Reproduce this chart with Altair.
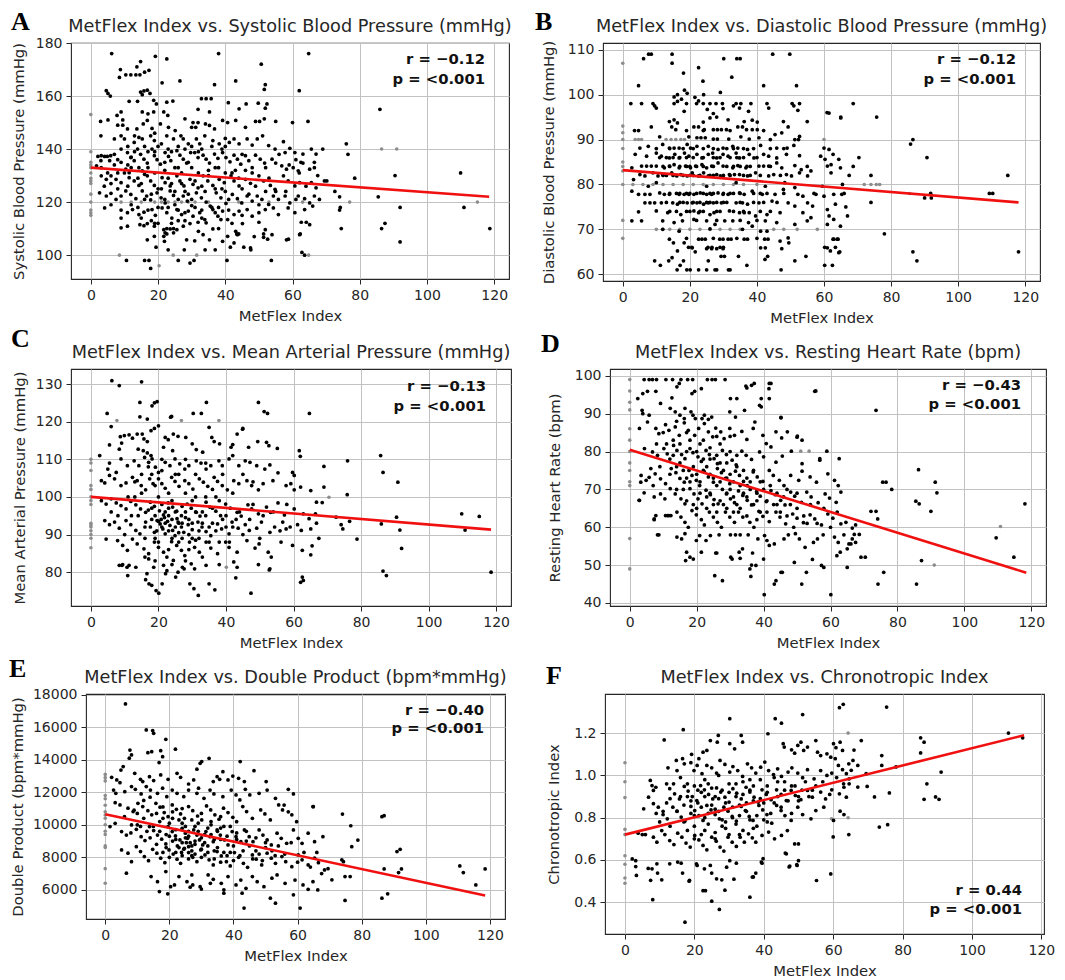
import altair as alt
import pandas as pd

X_TICKS = [0, 20, 40, 60, 80, 100, 120]

# ---------------- Panel A : Systolic BP ----------------
A_pts = [
(6.2,176),(38.0,176),(64.8,176),(50.7,172),(22.6,174),(14.8,173),(13.7,171),(19.2,175),(8.8,170),(8.5,167),
(10.4,168),(11.9,168),(13.4,168),(14.6,168),(16.0,169),(17.3,169.7),(21.2,165),(26.5,165.7),(36.8,164.3),(43.1,165.7),
(51.9,164.3),(51.6,162.5),(62.0,162),(4.6,162),(5.1,161),(5.8,160),(14.8,161.5),(15.8,161.9),(16.8,162.2),(17.6,161),
(15.3,160.5),(11.4,158),(13.9,158),(18.7,158.4),(19.5,157),(22.6,157.7),(24.4,158.1),(32.9,159),(34.3,159),(35.8,159),
(31.9,155),(35.3,154),(40.9,157.5),(44.1,155.2),(46.2,157),(49.8,157.3),(52.4,157),(51.9,155.4),(9.0,154),(7.8,152.7),
(15.3,154),(17.0,153.3),(18.7,154),(21.7,154),(22.9,152.7),(9.5,151),(2.9,150.4),(5.1,151),(8.0,149),(9.5,149),
(10.9,147.6),(13.7,147.6),(15.6,149.5),(16.8,150.8),(18.2,147.8),(20.7,149.5),(23.1,148.2),(25.1,147),(28.0,151.4),(30.0,148.2),
(31.2,148.2),(30.4,150),(31.9,150),(34.1,149.5),(35.3,148.9),(36.8,147.6),(39.2,150.8),(40.7,150),(43.1,150.8),(46.0,148.2),
(49.0,150.4),(50.2,150.4),(51.6,151.4),(55.0,150.4),(60.0,150),(64.6,150.4),
(3.0,145),(7.0,143.8),(9.0,145),(10.0,143.8),(12.9,142.5),(14.3,144.4),(15.3,143.8),(17.8,145),(18.9,143.2),(21.0,142),
(22.6,145),(24.6,143.8),(26.8,145),(27.5,143.8),(29.0,142),(31.4,143.8),(32.4,142),(33.9,145),(36.3,143.2),(38.2,142),
(40.0,144),(41.2,142.5),(42.6,143.8),(44.1,142),(46.5,143.8),(48.0,141.5),(49.5,143.8),(51.1,145),(52.9,141.3),(54.8,140),
(57.3,142.8),(59.2,140.3),(60.7,138.7),(57.8,138.7),(63.1,138.1),(65.6,140),(67.0,138.1),
(2.1,137.2),(3.1,137.5),(4.1,137.2),(4.9,137.2),(5.9,137.5),(3.0,135.6),(5.6,135.6),(1.7,133.7),(3.1,133),(7.0,138),
(8.0,136),(9.0,135),(10.9,138.7),(11.9,136.8),(12.9,135.6),(10.4,132.4),(11.4,131.1),(13.9,140),(14.8,138),(15.8,136.2),
(16.8,134.7),(14.3,133),(15.3,131.8),(16.0,130.5),(18.2,140),(18.9,137.5),(19.7,136),(20.7,134.3),(22.1,138.7),(23.1,137.2),
(23.8,135.6),(25.6,139.4),(26.5,137.7),(27.5,136.2),(28.5,134.7),(29.7,138.7),(30.9,138.7),(31.9,136.8),(33.4,137.7),(34.3,136.2),
(35.3,134.7),(36.8,138.1),(37.8,136.5),(39.2,138.7),(40.2,136.8),(41.4,135.2),(42.6,137.7),(43.6,136.2),(44.6,134.3),(46.0,137.5),
(47.0,135.6),(49.0,137.7),(50.4,136.2),(51.7,134.7),(53.9,136.2),(55.0,134.7),(56.8,133.7),(58.2,132.4),(60.2,133),(61.7,131.8),
(63.1,134.7),(65.1,132.4),
(3.1,129.9),(4.6,128.6),(6.0,129.9),(7.5,128.6),(9.0,127.3),(11.4,129.2),(12.9,128),(14.3,126.3),(16.8,129.9),(17.8,128),
(18.9,126.3),(21.2,129.2),(22.1,127.3),(23.6,126.1),(25.6,129.9),(26.5,128),(27.7,126.1),(29.5,128.6),(30.4,126.7),(31.9,125.4),
(33.4,129.9),(34.8,128),(36.3,126.3),(38.2,128.6),(39.7,127.3),(41.7,129.9),(42.6,128),(44.1,126.1),(46.0,128.6),(47.5,127.1),
(50.0,129.9),(51.4,128),(53.4,126.3),(54.8,124.8),(57.3,129.9),(58.7,128),(60.7,126.1),(62.1,127.3),(65.6,127.3),(67.0,125.4),
(2.6,123.5),(4.6,122.3),(6.0,123.3),(7.5,121),(9.0,122.3),(10.4,124.2),(11.9,122.9),(13.4,121.3),(15.3,124.2),(16.6,122.3),
(17.8,120.8),(19.7,123.5),(20.9,121.6),(22.1,119.7),(23.6,124.2),(24.6,122.5),(26.0,121),(27.5,122.3),(28.7,120.4),(30.0,118.7),
(31.4,123.5),(32.9,121.6),(34.3,120),(35.5,118.5),(37.3,123.5),(38.7,121.6),(40.2,119.5),(42.1,122.9),(43.6,121.3),(44.9,119.7),
(46.5,122.3),(48.0,120.4),(49.5,122.3),(50.9,121),(52.9,119.1),(54.3,122.3),(55.8,121),(57.8,122.3),(59.2,119.7),(61.7,122.3),
(63.6,121.3),(65.1,119.7),(66.5,122.3),
(4.1,117.8),(9.0,117),(10.9,116),(12.4,117.2),(14.3,115.3),(15.8,116.2),(18.2,117.2),(19.2,115),(21.2,117.8),(22.6,116),
(24.1,114),(25.6,117.2),(27.0,115.3),(29.0,116.6),(30.4,114.7),(32.4,116),(33.9,113.4),(36.3,117.2),(37.8,114.7),(39.2,116.6),
(40.7,113.4),(42.6,115.3),(44.1,116.6),(46.5,117.2),(48.0,114.7),(50.0,116),(51.9,117.2),(54.3,117.8),(55.8,115.3),(58.7,117.8),
(60.7,116),(63.6,117.2),(66.0,118.5),(9.0,114),(10.9,110.9),(14.6,111.5),(15.8,111.1),(16.8,111.9),(18.9,110.9),(21.7,109.6),
(22.6,110),(23.6,109.9),(24.6,110),(25.6,109.6),(27.5,110.9),(29.5,111.9),(31.9,112.4),(34.3,112.2),(36.3,109.9),(38.7,113.4),
(43.1,109),(43.6,107.7),(45.1,111.9),(50.0,112.4),(51.9,109.6),(62.6,112.4),(65.1,111.5),(64.1,112.4),(9.0,110.3),
(21.7,107.1),(21.9,105.2),(22.1,108.4),(22.6,108),(24.6,108.4),(18.9,107.1),(16.8,105.8),(28.5,105.8),(30.9,105.4),(33.4,107.7),
(35.3,105.8),(39.2,105.2),(40.7,107.1),(42.6,104.6),(47.5,102.7),(51.4,106.7),(53.9,107.7),(58.2,105.8),(62.1,107.7),
(52.6,106),(58.8,106),(62.3,108),(48.6,107),(51.4,108),(43.4,108),(44.0,108),
(10.6,98),(16.0,98),(17.3,98),(17.8,95),(19.4,103),(23.0,102),(26.0,98),(27.8,102),(29.5,97),(30.7,98),
(34.0,102),(37.0,102),(40.5,98),(41.5,103),(45.5,103),(47.6,102),(53.7,98),(62.8,101),(63.6,100),
(76.0,142),(76.5,138),(69.0,140),(78.5,129),(90.5,130),(110.0,131),(69.5,128),(70.2,128),(72.6,124),
(74.0,122),(74.2,118),(74.0,117),(85.5,122),(74.5,110),(86.5,110),(87.5,112),(92.0,118),(92.0,105),(111.0,118),
(118.7,110),(86.0,155),(66.5,133),(67.5,130),(68.0,121),(66.5,135),(62.5,135),(61.0,136),
]
A_core = [
(11,141),(13,139),(16,141),(19,139),(20,141),(23,140),(26,141),(28,140),(30,141),(33,140),(36,141),(39,140),
(12,133),(17,133),(19,131),(22,132),(25,133),(27,131),(30,133),(32,131),(35,132),(38,133),(40,131),(43,132),(46,132),(48,131),
(11,126),(15,127),(20,125),(24,127),(28,124),(33,126),(37,125),(40,124),(45,125),(49,126),(52,124),
(12,119),(14,118),(17,117),(20,118),(23,118),(26,117),(28,116),(31,118),(33,117),(38,118),(41,117),(45,115),
(18,113),(20,112),(24,112),(26,113),(28,113),(32,109),(38,110),(42,112),(7,134),(5,131),(8,125),(6,119),(4,126),
(9,140),(10,131),(12,137),(13,145),(14,129),(16,121),(17,139),(18,123),(19,146),(21,125),(22,135),(23,129),(24,139),
(25,119),(26,133),(27,127),(29,135),(30,121),(31,128),(32,139),(34,124),(35,130),(36,118),(37,133),(39,125),(40,141),
(41,121),(42,131),(44,129),(45,138),(47,123),(48,133),(50,119),(52,133),(53,129),(55,124),(56,138),(58,124),(59,134),
(61,121),(62,131),(64,126),(15,114),(19,112),(22,121),(25,124),(29,123),(33,114),(37,116),(11,134),(8,131),(6,127),
]
A_gray = [(0,153),(0,139),(0,135),(0,134),(0,133),(0,131),(0,129),(0,128),(0,127),(0,123),(0,120),(0,117),(0,116),(0,115),
(8.5,100),(20.3,96),(24.5,100),(31.5,100),(64.8,100),(77.0,120),(115.0,120),(86.5,140),(91.0,140),
(9,120),(12,120),(15,120),(19,120),(21,120),(23,120),(25,120),(27,120),(29,120),(31,120),(35,120),(44,120),(53,120),(63,120)]
A_line_x = [0, 118.5]
A_line_y = [133, 122]

# ---------------- Panel B : Diastolic BP ----------------
B_pts = [
(6.2,108),(7.7,109),(8.5,109),(14.7,109),(14.7,107),(18.1,104.8),(22.6,106),(23.9,103),(30.1,108),(32.5,103.9),
(34.0,108),(35.0,108),(44.7,109),(49.8,109),(42.0,102),(51.8,102),(4.7,102),(2.4,98),(5.6,98),(9.0,98),(9.5,97.5),
(15.3,98),(16.3,98.5),(19.0,98),(22.0,98),(24.0,98),(26.0,98),(27.8,98),(29.7,98),(33.0,97.5),(33.8,98),(35.2,98),(38.2,98),(43.0,98),
(50.5,98),(51.0,97.5),(52.7,98),
(15.3,99.5),(16.3,100),(18.4,101),(19.2,100.3),(17.5,99),(21.5,99.4),(24.1,100),(29.1,100.5),(22.6,98.6),
(10.0,97),(18.3,96.3),(25.2,96.7),(27.0,95.8),(29.9,96.9),(34.8,97),(37.5,96.3),(43.5,97),(52.2,96.5),
(13.9,94),(15.3,94.4),(16.3,93.7),(24.0,93.9),(26.0,94.8),(28.0,95),(31.4,94.4),(36.2,94),(38.6,94.3),(40.1,93.9),
(47.9,94),(49.3,92.8),(55.0,94),(61.5,95.9),(65.0,94.8),
(3.5,92),(4.7,92),(8.5,92.8),(14.6,92.8),(15.8,92.2),(21.2,92.8),(22.6,92.8),(24.3,92.2),(27.0,92.2),(28.2,92.2),
(29.4,92.2),(30.9,92.2),(34.3,92.8),(35.7,92.8),(36.9,92.2),(38.6,92.2),(40.1,92.2),(45.4,91.1),(47.4,91.5),(52.7,90.7),
(11.0,90.6),(19.7,90.6),(22.1,90.4),(23.3,90.4),(24.6,90.4),(27.0,90.1),(28.2,90.1),(31.6,90.1),(35.2,90.6),(37.7,90.1),
(40.6,90.4),(44.0,90),(51.3,90),(52.4,90),
(5.1,88.1),(7.6,88.5),(11.9,88.9),(13.9,88.1),(15.3,88.1),(16.8,88.1),(19.2,88.9),(20.2,88.1),(22.1,88.5),(25.5,88.5),
(28.4,87.8),(29.9,88.1),(32.8,88.5),(34.3,88.1),(37.2,87.8),(41.1,88.7),(45.9,88.1),(49.0,88.1),(51.0,88.7),(60.0,88.1),(61.5,87.8),
(3.7,86.7),(7.1,86.3),(10.0,87),(11.5,86.3),(13.9,85.9),(15.5,86.7),(16.8,85.9),(18.4,87),(19.7,86.3),(22.1,86.7),
(23.6,85.9),(25.5,86.7),(26.8,87),(28.0,85.9),(29.9,86.7),(31.4,86.3),(33.8,87),(34.8,85.9),(37.7,86.7),(39.1,85.9),
(42.0,86.7),(43.5,86.3),(45.9,85.9),(48.8,86.7),(52.7,86.4),(59.0,86.3),(60.3,85.6),(62.7,86.7),(64.4,85.6),
(2.7,83.7),(5.6,84.1),(7.1,84.1),(8.5,84.1),(10.0,84.1),(12.4,83.7),(13.9,84.1),(15.3,84.4),(16.8,83.7),(18.7,84.1),
(20.2,83.7),(21.7,84.1),(23.6,84.4),(25.0,83.7),(26.5,84.1),(28.4,84.8),(29.9,84.1),(32.8,83.7),(34.3,84.2),(36.7,83.7),
(40.6,84.1),(42.0,84.1),(43.5,84.1),(45.9,84.8),(47.4,83.7),(51.3,84.2),(53.2,83.3),(56.1,83),(61.0,84.1),(62.1,84.4),(64.9,83.7),
(3.2,81.1),(5.1,82.2),(6.6,81.9),(9.0,82.6),(10.5,81.9),(11.9,82.2),(14.6,82.6),(16.1,81.9),(17.3,82.2),(19.2,81.9),
(20.7,82.6),(22.6,81.9),(24.1,82.6),(25.5,81.9),(28.0,82.2),(29.1,81.9),(31.8,82.2),(33.3,82.2),(34.8,82.2),(37.2,81.9),
(39.6,82.6),(43.5,81.9),(45.0,82.2),(48.8,82.2),(50.3,81.9),(52.7,82.6),(55.1,81.9),(62.1,82.6),
(7.6,79.6),(10.0,80.4),(25.0,79.6),(33.8,80.4),(42.5,79.6),(48.3,80.4),(51.3,79.3),(59.5,79.6),
(2.7,78.5),(4.7,77.8),(6.6,77.8),(8.1,77.8),(11.0,78.1),(12.4,77.8),(13.9,77.8),(16.8,77.8),(18.3,77.8),(19.7,77.8),
(21.2,77.8),(23.1,78.1),(25.0,77.8),(26.5,77.8),(28.4,78.1),(29.9,77.8),(31.4,77.8),(34.8,78.1),(36.2,77.8),(38.6,78.5),
(41.6,77.8),(45.4,77.8),(47.9,78.9),(52.2,77.8),(53.7,77.4),(57.6,77.8),(60.0,77.4),(62.9,77.8),(65.3,77.8),
(6.6,75.9),(8.1,75.9),(9.5,75.9),(11.5,75.9),(14.9,75.9),(16.3,75.6),(19.2,75.9),(20.7,75.9),(22.1,75.9),(24.1,75.6),
(25.5,75.9),(27.0,75.9),(29.4,75.9),(33.8,75.9),(35.7,75.9),(37.2,75.6),(40.6,75.9),(44.5,76.3),(49.3,75.9),(51.3,75.2),
(55.1,75.9),(56.6,75.2),(61.0,74.4),(63.4,75.6),
(4.7,73.9),(10.0,74.1),(13.4,73.7),(17.3,73.3),(21.2,74.1),(22.6,73.7),(26.0,73.3),(27.2,73.7),(31.8,74.1),(34.8,73.7),
(36.2,73.7),(37.7,73.7),(39.6,73),(43.0,73.3),(46.9,73.7),(53.7,73.7),(56.1,72.6),(61.5,73),(62.9,72.2),
(2.7,71.9),(5.6,71.9),(11.9,71.9),(15.3,71.5),(17.8,71.9),(21.2,72.2),(25.0,71.9),(27.5,71.1),(30.4,71.9),(32.8,71.9),
(37.5,71.5),(38.6,70.7),(42.5,71.9),(45.9,71.5),(51.3,71.1),(55.0,71.9),(61.0,71.1),(64.9,70.7),
(11.9,70),(16.8,69.6),(26.0,70.1),(35.7,70),(41.1,69.6),(43.0,69.6),
(13.9,67.8),(15.1,67),(18.3,67),(22.6,67.8),(23.6,67.8),(24.6,67.8),(28.9,67.8),(29.9,67.8),(31.4,67.8),(32.3,67.8),
(36.2,67.8),(37.2,67.8),(42.3,67.8),(43.3,67.8),(46.9,67.4),(49.3,68.1),(62.9,67.8),(63.9,67.8),(62.7,67.8),(64.2,67.8),
(16.3,65.2),(20.7,65.9),(25.0,65.7),(26.5,65.7),(28.0,65.7),(29.9,65.7),(41.1,65.9),(42.5,65.9),(47.4,65.7),(49.5,67),
(61.0,65.9),(61.9,65.2),(64.4,64.8),(19.6,66),(20.6,66),(25.4,66),(26.6,66),(29.0,66),(30.0,66),(60.2,66),(63.4,66),(64.7,65),
(9.5,63),(11.2,62),(13.7,63),(14.7,63.7),(16.2,61),(17.1,62),(18.1,63),(19.1,61),(20.1,61),(21.6,65),
(22.6,61),(25.0,61),(25.5,63),(27.5,61),(28.0,61),(29.3,64),(30.3,64),(31.5,61),(32.0,61),(34.5,64),
(37.0,62),(42.4,63.3),(43.2,64),(47.2,61),(51.3,63),(54.6,64),(60.2,62),(62.5,62),
(60.9,96),(65.0,95),(68.7,98),(75.7,95),(70.4,86),(68.7,84),(85.8,89),(86.5,90),(90.7,86),(74.0,82),
(74.0,76),(78.0,69),(86.5,65),(87.7,63),(90.0,77),(92.0,77),(91.8,78),(109.3,78),(110.3,78),(114.8,82),(118.0,65),
(66.5,75),(67.0,73),(65.5,80),(67.5,82),(66.0,78),
]
B_core = [
(13,86),(17,86),(21,86),(24,86),(27,86),(32,86),(36,86),
(12,84),(17,84),(19,84),(22,84),(24,84),(27,84),(31,84),(35,84),(38,84),
(12,82),(15,82),(18,82),(21,82),(23,82),(26,82),(30,82),(36,82),(41,82),
(14,78),(17,78),(20,78),(22,78),(24,78),(27,78),(30,78),(33,78),(39,78),(43,78),
(13,76),(18,76),(21,76),(23,76),(26,76),(28,76),(31,76),(39,76),(46,76),
(16,74),(20,74),(24,74),(29,74),(33,74),(44,74),
(14,88),(18,88),(24,88),(27,88),(31,88),(36,88),(39,88),
(10,88),(21,88),(33,88),(11,86),(15,86),(19,86),(29,86),(34,86),(40,86),(14,84),(20,84),(33,84),(37,84),(44,84),
(13,82),(20,82),(27,82),(32,82),(38,82),(47,82),(16,78),(19,78),(26,78),(32,78),(35,78),(41,78),(48,78),
(17,76),(25,76),(30,76),(35,76),(42,76),(14,74),(19,74),(23,74),(28,74),(36,74),(41,74),
(22,72),(28,72),(35,72),(40,72),(19,68),(27,68),(34,68),(40,68),(24,92),(19,92),(32,92),(42,92),(44,88),(48,88),(55,84),(57,78),
]
B_gray = [(0,107),(0,93),(0,91.5),(0,90),(0,88),(0,85),(0,84),(0,83),(0,80),(0,72),(0,68),
(3.7,90),(4.7,90),(5.6,90),(12.9,90),(14.4,90),(15.8,90),(17.3,90),(18.4,90),(60,90),
(3,80),(6,80),(9,80),(12,80),(15,80),(18,80),(21,80),(24,80),(27,80),(30,80),(33,80),(36,80),(40,80),
(72,80),(74,80),(75.6,80),(76.6,80),(85.5,78),
(10,70),(12,70),(14,70),(17,70),(20,70),(23,70),(26,70),(29,70),(32,70),(35,70),(45,70),(48,70),(52,70),(58,70)]
B_line_x = [0, 118]
B_line_y = [83.2, 76.0]

# ---------------- Panel C : Mean arterial pressure ----------------
C_pts = [
(6.2,130.9),(8.4,129.6),(15.0,130.6),(14.5,125.1),(18.8,125),(18.1,124.2),(19.6,125.3),(34.2,125.1),(49.6,125.1),(51.3,122.7),
(52.3,122.2),(64.7,122.2),(30.3,122.2),(32.7,122.2),(23.6,121.2),(14.5,121.3),(16.7,120.7),(44.9,118),(35.0,118.5),(4.8,122.2),
(23.9,121.4),(45.0,118.2),(43.3,116.7),
(6.0,118.7),(8.7,116),(9.9,116.3),(11.3,116.5),(5.5,113.8),(8.4,112.7),(9.1,114.3),(12.3,115.6),(13.7,116.7),(15.2,116.7),
(15.7,115.4),(16.7,114.7),(17.8,117.6),(18.8,118.2),(20.0,118.9),(14.0,112.7),(15.5,112.3),(16.7,111.7),(17.8,111),(22.0,115.8),
(22.9,115.2),(24.4,116.7),(25.8,116.1),(21.5,113.2),(24.2,112.3),(28.1,115.8),(30.0,114.1),(31.2,112.6),(33.1,111.9),(35.8,115.8),
(36.5,114.7),(38.1,114.1),(41.5,113.2),(42.0,113.9),(46.7,113.2),(49.4,114.7),(52.0,114.5),(52.7,113.6),(55.2,112.9),(61.7,112.3),(62.0,110.8),
(2.6,111),(5.5,109),(5.0,107.4),(8.9,110.1),(10.8,108.3),(7.5,106.5),(12.8,109.6),(14.2,108.3),(15.9,110.5),(17.1,109.2),
(19.1,107.9),(20.0,106.5),(18.1,110.1),(22.0,109.2),(23.4,108.3),(24.9,110.1),(26.3,108.8),(27.8,107.4),(29.0,108.3),(31.2,109.6),
(32.6,109),(34.1,107.4),(35.5,108.3),(37.9,109.6),(38.9,108.3),(40.9,110.1),(42.0,111),(43.8,108.3),(45.7,109.6),(47.1,109.2),
(49.1,108.3),(51.5,107.4),(53.0,108.5),(55.4,106.4),(59.7,106.5),(60.2,105.7),
(3.1,104.3),(4.1,103.7),(5.5,105.7),(7.0,104.8),(8.9,103),(10.4,103.7),(12.3,105.2),(13.7,104.3),(14.9,103),(16.2,101.9),
(17.4,104.8),(18.4,103.5),(20.0,104.8),(21.0,103.5),(22.0,102.3),(23.9,105.2),(24.9,104.1),(26.1,102.8),(27.8,104.3),(29.0,103.5),
(30.2,102.1),(32.1,104.8),(33.3,103.9),(34.6,102.8),(36.5,105.2),(37.5,104.1),(38.9,103),(40.4,101.9),(42.3,104.3),(43.8,103.5),
(46.2,104.3),(47.6,103),(49.6,101.9),(51.0,103.5),(53.9,104.3),(57.8,103),(59.2,103.5),(60.2,101.9),(62.1,102.6),(65.1,101.7),
(3.1,99),(4.5,98.1),(6.0,99.5),(7.5,98.4),(8.9,97.7),(10.4,96.8),(11.8,98.8),(13.3,97.9),(14.7,96.8),(16.2,95.9),
(17.6,98.6),(18.8,97.5),(20.3,96.3),(21.5,95.2),(22.9,98.4),(24.2,97.3),(25.4,96.2),(26.8,95),(28.5,98.1),(29.7,97),
(31.2,95.9),(32.3,94.9),(34.1,98.6),(35.2,97.3),(37.0,96.2),(38.4,95),(39.9,98.1),(41.3,97),(43.3,95.9),(44.5,94.9),
(46.5,97.9),(47.6,96.8),(49.6,95.5),(52.0,97.3),(53.2,95.9),(55.4,98.4),(57.3,95.2),(60.2,96.8),(62.9,95.5),(64.6,94.2),(66.8,98.6),
(4.1,93.7),(5.5,92.6),(7.0,93.3),(8.4,91.7),(10.4,93.7),(11.8,92.6),(13.3,91.1),(14.5,90.2),(16.2,93.3),(17.6,92),
(18.8,90.6),(19.6,93.7),(20.5,92.8),(21.3,91.5),(22.0,90.2),(22.7,93.5),(23.4,92.4),(24.2,91.1),(24.9,89.7),(25.8,93.3),
(26.8,92),(27.5,90.6),(28.8,92.6),(30.0,91.3),(31.7,93.3),(32.9,92),(34.1,90.8),(35.5,89.7),(37.5,92.8),(38.7,91.5),
(40.9,90.2),(41.8,93.3),(43.6,91.7),(45.7,92.6),(46.9,91.1),(49.1,91.7),(50.5,93.3),(53.0,90.6),(54.4,92),(56.8,93.3),
(57.8,91.5),(61.2,92.6),(62.3,91.1),(65.1,91.5),(20.8,94.0),(21.8,94.5),(23.0,95.0),(25.5,94.2),
(4.5,88.8),(7.9,88.4),(9.4,87.1),(10.8,85.8),(12.3,88.8),(13.7,87.5),(15.7,86.2),(17.1,84.9),(18.8,88),(20.0,86.6),
(21.5,85.3),(22.5,84),(23.9,88.1),(25.4,87.1),(26.8,85.8),(27.8,84.4),(29.2,88),(30.7,86.6),(32.1,85.3),(34.1,88),
(35.5,86.4),(37.5,84.9),(39.9,88),(40.9,86.6),(43.3,85.3),(46.2,88.4),(48.6,86.4),(49.8,87.5),(52.5,85.3),(53.4,84),
(56.3,88),(59.7,87.1),(62.6,85.8),(65.1,84.6),
(9.4,82),(11.3,81.8),(13.3,81.3),(17.1,83.5),(18.6,81.3),(21.5,81.8),(22.5,80.4),(24.4,83.1),(25.8,80),(27.1,81.3),
(29.7,82.2),(30.7,80.9),(34.1,81.8),(42.3,82.7),(43.3,81.3),(49.6,82),(53.0,80.9),(62.6,78.7),(62.1,77.3),(62.9,77.8),
(10.7,81.3),(8.4,81.8),(9.2,81.8),(10.9,79.1),(16.6,79.6),(16.2,78),(17.2,76.9),(18.0,76.5),(19.3,75.1),(20.1,74.4),
(21.1,76.9),(22.1,79.6),(25.1,78.7),(27.6,80.9),(29.3,76.9),(30.5,75.6),(31.8,73.8),(35.0,76.9),(36.7,75.3),(42.9,78.5),
(47.4,74.4),(52.8,80.6),
(85.8,111),(86.5,106.5),(90.9,103.9),(76.0,109.6),(75.9,100.6),(78.8,88.8),(74.1,92.6),(74.6,91.5),(76.6,93.5),(69.0,108.1),
(69.0,102.6),(86.0,92.8),(90.5,94.6),(91.5,91.2),(92.0,86.3),(86.5,80.3),(87.5,79.1),(109.8,95.5),(110.8,91.2),(115.0,94.8),(118.5,80),
(66.5,95.5),(67.5,89),(65.5,87),(66.8,93),(68.5,98.5),(72.6,94.6),
]
C_core = [
(19,95),(20,93.5),(21,92),(22,96),(23,91),(24,94),(25,92),(26,90.5),(27,93),(28,94.5),(29,90),(30,93),(31,88.5),(19.5,91),(18,94),
(17,96.5),(21,98),(24,99),(27,97.5),(30,99),(33,96),(36,93),(39,94),(42,92),(44,96),
(16,89),(20,88),(23,86),(26,88),(29,86),(32,89),(35,92),(38,88),
(12,95),(13,100),(10,90),(8,95),(6,96),(15,106),(18,106),(21,107),(25,106),(28,101),(31,100),(34,100),(37,100),(40,95),
(14,95),(16,92),(18,97),(19,89),(20,100),(22,93),(23,97),(24,89),(25,96),(26,93),(27,89),(28,96),(29,94),(30,89),
(31,96),(32,91),(33,93),(34,95),(35,88),(36,97),(37,91),(38,99),(40,92),(41,88),(43,94),(45,90),(47,94),(48,98),
(50,89),(51,95),(54,96),(56,91),(58,98),(59,92),(11,100),(13,104),(15,101),(17,108),(19,103),(21,110),(23,101),
(26,106),(28,110),(31,106),(34,109),(36,102),(39,106),(42,101),(45,106),(48,104),(16,84),(19,83),(24,82),(28,83),(33,84),(38,82),
]
C_gray = [(0,110),(0,109),(0,107),(0,103),(0,102),(0,100),(0,99),(0,98),(0,93),(0,92.5),(0,92),(0,91),(0,90),(0,89),(0,86.5),
(7.7,120.3),(26.8,120.3),(37.9,120.3),(40.1,81.3),(70.5,99.9)]
C_line_x = [0, 118.5]
C_line_y = [100.0, 91.3]

# ---------------- Panel D : Resting heart rate ----------------
D_pts = [
(4.3,99),(5.8,99),(6.8,99),(8.0,99),(10.8,99),(12.8,99),(15.3,99),(17.3,99),(18.8,99),(23.2,99),(24.6,99),(25.6,99),(28.5,99),
(2.4,94),(3.9,95.3),(5.3,95.9),(7.8,95.9),(12.6,94.2),(14.1,97.1),(14.8,98),(18.6,95.3),(19.4,95.9),(21.4,96.6),(30.1,94),
(32.0,94),(35.0,96.8),(36.4,97.5),(39.3,94),(41.7,94),(41.6,96.6),(55.3,95.9),(38.8,92.2),(41.7,98),(34.7,97.3),(37.2,98),(42.2,98),
(3.7,90.9),(3.9,90),(5.8,89.6),(9.2,92.7),(12.1,91.4),(13.6,90.5),(16.5,91.4),(18.3,90.5),(18.9,89.6),(19.6,88.7),
(21.6,88.7),(22.3,89.6),(23.5,88.5),(24.5,89.1),(16.3,88.7),(15.0,89.6),(29.9,90.5),(31.6,89.1),(34.3,90.9),(37.4,87.8),
(45.2,88.9),(39.3,91.8),(73.6,90.9),
(2.9,86.1),(5.3,87.8),(7.8,86.1),(8.7,84.7),(10.7,87.1),(11.7,85.6),(13.6,86.5),(14.8,84.3),(16.3,87.6),(17.5,85.6),
(19.4,84.3),(20.6,86.1),(22.3,87.4),(23.5,85.2),(24.8,83.9),(25.7,86.2),(27.2,85.2),(28.2,83.4),(29.9,86.1),(31.3,84.3),
(33.5,85.3),(35.0,83.2),(36.9,86.1),(39.8,84.3),(40.8,82.1),(43.7,85.2),(45.4,83.6),(47.1,85.2),(50.0,83.8),(51.5,83),
(4.4,80.8),(6.8,79.9),(8.3,79),(10.2,80.8),(11.2,79.4),(13.1,81.6),(14.1,80.3),(15.5,79.2),(16.5,78.1),(18.0,80.8),
(18.9,79.7),(20.4,78.6),(21.4,77.4),(22.8,80.3),(23.8,79.2),(25.2,78.1),(26.2,76.8),(27.7,80.3),(28.9,79.2),(30.6,77.7),
(31.8,76.5),(33.5,80.1),(34.8,79),(36.4,77.9),(38.8,79.9),(40.0,78.6),(42.2,81.2),(43.7,77.2),(45.6,78.8),(48.3,80.1),
(51.5,76.8),(56.8,77.7),(62.6,78.1),(58.9,80.1),(56.8,78.1),
(3.4,73.7),(4.9,72.4),(6.3,75.5),(7.6,74.1),(9.2,72.8),(10.7,71.5),(12.4,75.5),(13.8,74.4),(15.0,72.9),(16.3,71.9),
(17.7,75),(18.6,73.7),(19.9,72.4),(20.9,71),(22.3,74.6),(23.5,73.3),(25.0,71.9),(26.2,75.5),(27.4,74.4),(28.6,72.9),
(29.9,71.5),(31.6,74.8),(32.8,73.7),(34.0,72.1),(35.1,71),(36.9,74.6),(38.1,73.3),(39.8,72.1),(41.7,75),(42.9,73.7),
(44.7,72.4),(46.1,71),(48.1,73.7),(50.5,72.4),(51.5,74.8),(53.9,73.3),(55.8,71.9),(59.2,74.1),(61.2,72.4),(62.3,71),
(2.9,67.1),(7.3,68),(9.2,68.8),(10.5,67.5),(12.1,70.2),(13.6,68.8),(15.3,67.5),(16.5,66.2),(18.0,70.2),(19.2,68.8),
(20.4,67.5),(21.6,66.2),(22.8,69.8),(24.1,68.6),(25.2,67.3),(26.4,66.2),(27.7,70),(28.9,68.8),(30.1,67.5),(31.3,66.5),
(32.5,69.6),(33.8,68.4),(35.1,67.1),(36.4,65.9),(37.9,69.4),(39.0,68.2),(40.8,66.8),(42.2,69.7),(43.5,68.6),(45.1,67.1),
(46.4,65.9),(48.1,69.3),(49.3,68.2),(51.3,66.6),(52.9,69.3),(54.2,68),(56.3,66.5),(58.4,68.8),(59.7,67.7),(61.7,66.6),(63.1,69.3),
(7.3,62),(10.7,63.1),(11.7,63.1),(14.1,64),(15.3,62.7),(16.5,61.3),(17.5,60),(18.6,64.4),(19.9,63.3),(21.4,62),
(22.3,60.6),(23.8,64),(25.0,62.7),(26.2,61.3),(27.4,60),(28.6,64),(29.9,62.7),(31.3,61.3),(32.5,64),(33.8,62.7),
(35.9,61.3),(37.1,60),(38.6,64.2),(39.8,62.9),(41.7,61.5),(43.7,64),(44.9,62.7),(46.6,60.9),(48.7,63.5),(50.0,62.4),
(51.9,61.2),(53.9,63.3),(55.3,62.2),(57.3,60.6),(59.2,63.5),(60.7,62.4),(63.1,60.9),(64.6,61.3),(66.5,59.8),(67.5,60.6),
(8.3,58),(8.7,58),(14.1,57.4),(15.5,56.9),(16.5,58.3),(19.9,56.5),(20.9,57.8),(22.8,56.5),(24.1,57.8),(26.7,58),
(30.1,58),(31.6,58),(33.0,58),(35.4,58),(38.3,56.9),(40.3,57.8),(41.0,56.5),(43.2,55.6),(46.1,56.9),(47.4,58),
(49.5,58.3),(50.7,56.9),(52.4,54.7),(54.9,56),(56.1,56.9),(57.8,58),(61.2,57.4),(62.3,56),(65.5,55.6),(66.5,56.9),
(67.5,56),(65.0,54.3),(67.1,58.1),(68.6,58.1),(66.1,55.6),
(17.0,53.4),(18.0,52.1),(19.0,51.6),(21.4,53.4),(25.7,53.2),(30.6,51.6),(33.0,51.8),(35.9,49),(36.4,50),(37.7,49.9),
(40.0,51.6),(41.7,55.2),(45.6,48.1),(49.2,50.7),(54.6,51.5),(58.0,49.4),(61.9,52.5),(62.9,53.4),(65.0,49.4),(57.3,49.9),
(16.7,51.2),(30.2,52.1),(32.7,53.4),(33.7,54.3),(36.7,53.2),(26.0,53.2),(69.1,52.1),(70.4,52.1),
(60.1,42.2),(40.2,42.2),(43.7,45.9),(43.2,45),(51.4,45),(52.8,48.1),(45.2,48.1),(36.2,47),(25.4,47.2),(27.7,45.9),
(2.8,67.1),(7.3,62.2),(4.3,69.1),(3.3,71.9),(5.8,73.2),(7.8,63.1),(11.3,63.1),(12.3,63.1),
(55.6,96),(45.2,89),(50.1,84.1),(86.3,75.2),(75.6,71.9),(76.6,71.9),(78.3,70),(91.3,71.9),(91.8,69.1),
(85.5,66.9),(86.5,66.2),(90.0,64.2),(72.1,64.2),(73.6,64.2),(74.1,62.2),(118.1,66.2),(109.5,57.2),(114.8,52.1),(87.2,51.2),
(85.7,45),(75.9,48.1),(74.2,45),
]
D_core = [
(12,78),(14,76),(16,75),(17,73),(19,76),(20,74),(21,72),(22,78),(23,76),(24,74),(25,73),(26,71),(27,77),(28,75),(29,73),
(30,70),(31,72),(32,76),(33,71),(34,69),(35,73),(36,70),(37,66),(38,67),(39,64),
(13,83),(15,82),(18,83),(21,82),(24,81),(27,82),(30,80),
(14,70),(17,67),(20,65),(23,65),(26,64),(29,65),(32,66),(35,63),(38,62),(41,64),(44,66),(47,63),(50,65),(53,61),
(24,69),(27,67),(29,69),(31,64),
(11,82),(12,74),(13,79),(15,77),(16,70),(17,80),(18,72),(19,66),(20,80),(21,69),(22,75),(23,68),(24,78),(25,66),
(26,79),(27,72),(28,66),(29,77),(30,74),(31,68),(32,79),(33,65),(34,75),(35,68),(36,72),(37,75),(38,69),(39,72),
(40,70),(41,67),(42,71),(43,66),(44,69),(45,64),(46,68),(47,70),(48,66),(49,60),(50,69),(52,63),(54,66),(56,61),
(58,65),(60,60),(62,64),(64,58),(8,82),(9,76),(7,71),(10,85),(14,88),(17,85),(22,83),(26,84),(30,84),
]
D_gray = [(0,99),(0,96),(0,93),(0,91),(0,86),(0,83),(0,80),(0,77),(0,75),(0,72),(0,71),(0,57),(0,49),
(51.1,80.1),(53.6,80.1),(110.8,60.2),(91.0,50)]
D_line_x = [0, 118.5]
D_line_y = [80.5, 48.0]

# ---------------- Panel E : Double product ----------------
E_pts = [
(6.3,17440),(12.8,15840),(14.8,15800),(15.1,15630),(18.9,15260),(17.3,14560),(21.9,14650),(7.7,14600),(8.2,14300),(13.3,14440),
(14.5,14500),(17.9,14190),(16.8,13830),(30.1,13890),(29.6,13780),(32.4,14090),(42.1,13890),(46.4,13330),(36.7,13270),(28.6,13420),
(5.6,13580),(4.9,13370),(2.0,12920),(3.6,12760),(4.6,12590),(9.2,13170),(11.0,12800),(11.7,12660),(13.8,12960),(15.1,12720),
(17.3,13070),(19.6,12800),(22.4,13170),(23.5,12920),(26.0,12510),(27.6,12760),(29.1,12250),(33.7,12660),(34.9,12960),(35.7,12800),
(38.3,12760),(39.8,13000),(41.6,12860),(43.4,12660),(50.2,12660),(7.5,14100),
(2.6,12140),(3.3,11940),(6.1,12040),(8.2,12350),(9.4,12180),(11.2,11900),(12.8,12350),(14.1,12140),(16.3,11940),(17.9,12250),
(19.2,11730),(20.9,12140),(22.4,11940),(24.5,11730),(26.0,12140),(28.6,11940),(30.8,11630),(32.7,12140),(33.9,11900),(36.7,11730),
(39.3,12140),(40.8,11840),(42.0,11530),(43.7,12180),(45.1,11840),(48.0,11940),(50.5,12140),(53.1,11630),(57.1,12180),(58.7,11900),
(3.1,11360),(4.6,11220),(7.1,11020),(8.7,10810),(10.2,11320),(11.7,11120),(13.3,10870),(14.5,10610),(15.8,11320),(17.1,11080),
(18.4,10750),(19.6,10500),(20.9,11220),(22.2,10950),(23.5,10670),(24.7,10400),(26.0,11120),(27.3,10870),(28.8,10540),(30.1,10300),
(31.6,11160),(32.9,10910),(34.2,10610),(35.5,10340),(36.9,11020),(38.3,10750),(39.8,10460),(41.0,10190),(42.9,11120),(44.1,10810),
(45.9,10400),(48.5,10910),(49.8,10670),(51.5,10300),(54.1,11220),(55.3,10910),(58.2,10610),(59.7,10190),(64.8,11120),(55.8,11210),(57.1,10800),
(1.5,9890),(3.1,10090),(5.1,9580),(6.6,9370),(8.2,9990),(9.7,9720),(11.2,9270),(12.4,9030),(13.8,9890),(15.1,9640),
(16.3,9370),(17.6,9110),(18.9,8820),(19.6,9890),(20.9,9580),(21.9,9310),(23.3,9070),(24.0,9780),(25.0,9480),(25.7,9170),
(26.5,8900),(27.6,9680),(28.6,9370),(29.4,9070),(30.4,8760),(31.4,9580),(32.7,9270),(33.7,8960),(34.9,9680),(35.9,9370),
(37.2,9070),(38.3,8760),(39.6,9580),(40.8,9270),(42.3,8960),(43.4,9680),(44.9,9270),(46.1,8960),(48.0,9680),(49.2,9370),
(50.5,9070),(51.8,8760),(53.6,9480),(54.9,9170),(56.6,8860),(58.7,9680),(60.2,9170),(61.4,8860),(63.3,9480),(65.3,8960),(67.9,9270),
(22.5,8700),(24.5,8500),(26.0,8650),(27.0,8400),(28.0,8800),(25.3,8900),(23.8,8300),
(5.1,8450),(7.1,8250),(9.7,8650),(11.0,8350),(12.2,8040),(13.5,7790),(14.8,8490),(16.1,8250),(17.3,7940),(18.6,7670),
(19.9,8450),(21.2,8200),(22.4,7880),(23.5,7630),(24.7,8550),(26.0,8290),(27.3,8000),(28.6,7730),(29.8,8450),(31.1,8140),
(32.4,7840),(33.7,7530),(34.9,8350),(36.2,8080),(37.8,7730),(39.0,7470),(40.3,8290),(41.6,8000),(43.1,7630),(44.4,7380),
(45.9,8140),(47.1,7880),(48.8,7530),(50.5,8250),(51.8,7940),(53.1,7630),(55.1,8040),(56.3,7730),(58.2,7420),(60.2,8140),
(61.4,7840),(63.3,7530),(65.3,7940),(66.5,7670),(68.4,7220),
(6.6,7020),(8.2,7730),(14.3,6810),(16.3,6500),(18.9,7120),(20.4,6190),(23.0,6810),(25.5,6500),(27.0,6910),(29.6,6190),
(32.1,6910),(33.7,6640),(36.2,6400),(38.3,6810),(40.8,6300),(42.3,6600),(43.9,6090),(45.9,6810),(47.4,6500),(49.5,6190),
(52.0,6710),(53.6,6910),(56.1,6400),(59.2,6600),(61.7,6300),(63.3,6030),(64.8,6500),(66.3,5990),(51.5,5480),(53.1,5170),
(16.9,5890),(19.5,5750),(21.6,6300),(26.5,6160),(27.3,6300),(30.0,6040),(32.8,6400),(37.0,5790),(37.0,6000),(42.7,5790),
(43.3,4870),(58.7,5690),(60.8,4870),(64.9,11110),(74.0,10660),(76.6,9940),(76.9,8650),(78.8,9060),(86.3,10500),(87.0,10560),
(91.0,8350),(92.0,8490),(73.8,7840),(74.3,7730),(70.7,6610),(74.8,6810),(76.4,6810),(87.0,7280),(91.5,7060),(92.4,7280),
(110.6,7470),(111.7,7060),(118.5,7280),(115.6,6300),(88.1,5750),(86.3,5480),(74.8,5340),(67.5,7000),(69.5,7300),(66.0,8300),
]
E_core = [
(17,10200),(19,9400),(20,10100),(21,9000),(22,9700),(23,10300),(24,8900),(25,9900),(26,9300),(27,8700),(28,9900),(29,9600),
(30,9200),(31,8900),(32,9800),(33,9400),(34,9100),(35,8600),(36,9800),(37,8300),
(18,8300),(20,8000),(22,8300),(24,8100),(26,7900),(28,8200),(30,8000),(32,8300),(34,7900),(36,7700),(38,8100),(40,7800),
(16,10700),(18,11100),(21,10400),(24,11000),(27,10300),(30,10700),(33,10200),(36,10500),(39,9900),(41,9500),(44,9000),
(47,8400),(50,8600),(53,8100),(12,10400),(10,10000),(8,9500),(14,11700),(6,10500),
(15,9900),(16,8800),(17,9600),(18,10400),(19,8600),(20,9300),(21,10800),(22,9100),(23,8600),(24,10100),(25,9200),
(26,9600),(27,8100),(28,9000),(29,10100),(30,8500),(31,9400),(32,8700),(33,10000),(34,8400),(35,9600),(36,9100),
(37,9900),(38,9300),(39,8300),(40,8700),(41,9100),(42,8100),(43,8400),(44,9600),(45,8700),(46,7900),(47,9200),
(48,8200),(49,7800),(50,8900),(52,8400),(54,8700),(56,8200),(58,8900),(60,7700),(62,8300),(64,7400),(10,10700),
(12,11500),(13,9600),(11,9900),(9,10900),(14,9200),
]
E_gray = [(0,13100),(0,12900),(0,12700),(0,11800),(0,11600),(0,11200),(0,10800),(0,10600),(0,10400),(0,10000),
(0,9600),(0,9400),(0,8700),(0,8600),(0,7300),(0,6400)]
E_line_x = [0, 118.5]
E_line_y = [10650, 5650]

# ---------------- Panel F : Chronotropic index ----------------
F_pts = [
(30.2,1.268),(16.8,1.216),(11.3,1.168),(43.3,1.268),(45.1,1.247),(51.2,1.288),(61.8,1.32),(62.9,1.336),(24.6,1.165),(26.6,1.157),
(26.9,1.189),(33.5,1.189),(30.2,1.15),(31.6,1.126),(33.9,1.157),(41.2,1.197),(45.6,1.15),(45.9,1.134),(48.0,1.121),(48.9,1.105),
(49.8,1.142),(50.7,1.157),(51.5,1.118),(52.6,1.134),(55.0,1.165),(55.5,1.11),(56.4,1.094),(58.2,1.102),(59.3,1.086),(60.1,1.15),
(60.8,1.131),(62.0,1.157),(62.7,1.118),(22.5,1.11),(23.6,1.118),(21.3,1.079),(19.2,1.1),(16.6,1.079),(14.8,1.071),
(7.3,0.976),(7.8,0.952),(12.4,1.036),(15.0,1.023),(17.1,1.055),(19.9,1.023),(20.8,1.047),(22.2,1.008),(23.6,1.047),(25.0,1.036),
(26.4,1.011),(27.4,1.071),(28.8,1.052),(30.2,1.016),(31.1,1.042),(32.5,1.023),(33.9,0.995),(35.3,1.055),(36.5,1.036),(37.7,1.011),
(39.1,1.039),(40.3,1.063),(41.4,1.023),(42.8,1.004),(44.0,1.031),(45.1,0.995),(47.0,1.016),(48.1,1.036),(49.8,1.011),(51.2,0.989),
(52.6,1.027),(54.5,0.984),(56.4,1.023),(58.2,1.0),(59.6,1.011),(61.5,1.047),(62.7,1.027),(63.8,1.008),(60.6,1.079),
(6.8,0.897),(8.2,0.929),(8.9,0.944),(12.0,0.96),(12.9,0.937),(14.3,0.913),(15.7,0.889),(17.1,0.948),(18.2,0.926),(19.4,0.9),
(20.7,0.881),(21.8,0.952),(22.9,0.932),(24.1,0.91),(25.3,0.889),(26.4,0.941),(27.6,0.921),(28.8,0.897),(30.0,0.874),(31.1,0.937),
(32.2,0.916),(33.5,0.889),(34.9,0.944),(36.0,0.921),(37.2,0.897),(38.4,0.874),(39.5,0.932),(40.7,0.91),(42.1,0.885),(43.7,0.932),
(45.0,0.91),(46.5,0.881),(47.9,0.929),(49.1,0.905),(50.7,0.885),(52.6,0.929),(54.0,0.897),(56.4,0.921),(57.8,0.889),(59.6,0.932),
(61.8,0.913),(63.1,0.944),(63.8,0.897),
(5.4,0.842),(8.2,0.866),(9.6,0.85),(11.0,0.815),(12.2,0.795),(13.8,0.85),(15.0,0.831),(16.2,0.803),(17.3,0.784),(19.0,0.853),
(20.1,0.834),(21.3,0.81),(22.5,0.787),(23.6,0.858),(24.8,0.837),(26.0,0.815),(27.2,0.795),(28.5,0.85),(29.7,0.831),(30.9,0.806),
(32.1,0.784),(33.5,0.853),(34.7,0.834),(35.8,0.806),(36.9,0.787),(38.6,0.858),(39.7,0.837),(40.9,0.815),(42.3,0.774),(43.7,0.858),
(45.0,0.834),(46.1,0.81),(47.9,0.787),(49.8,0.85),(51.2,0.815),(53.6,0.795),(55.0,0.834),(57.3,0.85),(60.1,0.787),(62.0,0.831),(63.1,0.815),
(3.8,0.727),(5.0,0.72),(5.9,0.72),(8.2,0.708),(9.2,0.684),(10.6,0.739),(11.5,0.72),(12.9,0.692),(14.1,0.673),(15.2,0.727),
(16.4,0.708),(17.6,0.68),(18.8,0.661),(20.1,0.716),(21.3,0.695),(22.5,0.669),(23.6,0.648),(25.0,0.708),(26.3,0.689),(27.4,0.661),
(28.5,0.642),(29.7,0.708),(30.9,0.684),(32.1,0.664),(33.2,0.708),(34.4,0.684),(35.6,0.724),(36.7,0.705),(37.7,0.684),(39.5,0.716),
(41.4,0.732),(43.1,0.7),(45.1,0.716),(46.8,0.739),(48.9,0.676),(50.0,0.676),
(2.1,0.605),(3.1,0.597),(3.1,0.569),(3.3,0.527),(7.8,0.558),(9.2,0.582),(9.4,0.538),(10.6,0.506),(12.9,0.582),(15.2,0.59),
(16.2,0.585),(16.6,0.538),(18.5,0.5),(20.6,0.582),(20.8,0.574),(22.9,0.558),(24.6,0.574),(25.0,0.538),(23.2,0.455),(22.5,0.455),
(26.4,0.511),(27.9,0.506),(29.3,0.566),(30.2,0.597),(32.1,0.585),(36.7,0.519),(37.7,0.538),(39.5,0.585),(46.5,0.629),(47.5,0.571),
(49.6,0.574),(50.0,0.597),(55.2,0.503),(59.3,0.534),
(8.0,0.412),(25.0,0.405),(27.2,0.366),(17.3,0.306),(36.0,0.424),(28.8,0.457),(31.4,0.509),(37.0,0.52),(18.6,0.504),(7.4,0.504),
(6.7,0.56),(47.3,0.567),(49.5,0.578),(39.8,0.606),(39.3,0.59),(46.2,0.633),(60.0,0.709),(64.5,0.72),
(75.4,1.323),(85.2,1.178),(86.2,1.157),(85.2,1.106),(91.1,1.016),(87.0,0.96),(86.2,0.887),(89.5,0.898),(90.5,0.887),(78.1,1.04),
(76.2,0.917),(74.0,1.094),(74.0,1.047),(71.9,0.898),(69.8,0.948),(73.3,0.756),(75.7,0.767),(68.1,1.165),(110.5,1.2),(114.6,1.178),
(67.1,1.047),(69.5,1.008),(67.1,0.945),(65.7,1.071),(66.0,1.12),(64.6,0.96),(64.6,0.984),(65.2,1.024),(64.5,1.055),
]
F_core = [
(17,0.86),(18,0.9),(19,0.82),(20,0.95),(21,0.87),(22,0.92),(23,0.8),(24,0.96),(25,0.86),(26,0.9),(27,0.83),(28,0.93),
(29,0.78),(30,0.96),(31,0.85),(32,0.9),(33,0.81),(34,0.97),(35,0.87),(36,0.93),
(18,0.74),(20,0.76),(22,0.72),(24,0.77),(26,0.73),(28,0.76),(30,0.72),(32,0.77),(34,0.74),(36,0.79),(38,0.76),(40,0.79),
(37,0.95),(39,0.89),(41,0.95),(43,0.87),(44,0.97),(46,0.93),(48,0.95),(50,0.9),(52,0.97),(54,0.93),
(12,0.87),(13,0.76),(10,0.78),(14,0.96),(16,0.99),(19,1.06),(23,0.98),(27,1.0),
(15,0.83),(16,0.9),(17,0.78),(18,0.96),(19,0.88),(20,0.81),(21,0.93),(22,0.85),(23,0.9),(24,0.82),(25,0.94),(26,0.84),
(27,0.89),(28,0.79),(29,0.87),(30,0.92),(31,0.8),(32,0.96),(33,0.86),(34,0.91),(35,0.83),(36,0.98),(37,0.88),(38,0.81),
(39,0.98),(40,0.87),(41,0.92),(42,0.82),(43,0.99),(44,0.9),(45,0.85),(46,0.97),(47,0.88),(48,0.82),(49,0.95),(50,0.88),
(51,0.93),(53,0.9),(55,0.95),(57,0.97),(59,0.91),(61,0.99),(63,0.96),(20,0.7),(23,0.74),(26,0.7),(29,0.75),(33,0.72),
(37,0.75),(41,0.78),(11,0.83),(13,0.89),(9,0.82),
]
F_gray = [(0,1.06),(0,0.97),(0,0.895),(0,0.745),(0,0.72),(0,0.62),(0,0.58),(0,0.515),(0,0.49),
(64.3,1.2),(59.5,0.795),(64.3,0.8)]
F_line_x = [0, 115]
F_line_y = [0.72, 1.19]

FONT = "DejaVu Sans"
INK = "#262626"


def one_text(t, x, y, **style):
    return alt.Chart(pd.DataFrame({"t": [t]})).mark_text(**style).encode(
        x=alt.value(x), y=alt.value(y), text="t:N")


def panel(letter, title, ytitle, pts, gray, lx, ly, xdom, ydom, yticks, yfmt,
          w, h, r_txt, p_txt, ann_x, ann_y, let_xy, ytp):
    df = pd.DataFrame(pts, columns=["x", "y"])
    dg = pd.DataFrame(gray, columns=["x", "y"])
    dl = pd.DataFrame({"x": lx, "y": ly})
    X = alt.X("x:Q", scale=alt.Scale(domain=xdom, nice=False, zero=False),
              axis=alt.Axis(values=X_TICKS, title="MetFlex Index", format="d"))
    Y = alt.Y("y:Q", scale=alt.Scale(domain=ydom, nice=False, zero=False),
              axis=alt.Axis(values=yticks, title=ytitle, format=yfmt, titlePadding=ytp))
    g_l = alt.Chart(dg).mark_circle(size=13, color="#8c8c8c", opacity=1).encode(x=X, y=Y)
    p_l = alt.Chart(df).mark_circle(size=14, color="#000000", opacity=1).encode(x=X, y=Y)
    l_l = alt.Chart(dl).mark_line(color="#f01010", strokeWidth=2.6).encode(x=X, y=Y)
    ann = dict(font=FONT, fontSize=14.8, fontWeight="bold", align="right",
               baseline="middle", color="#111111")
    r_l = one_text(r_txt, ann_x, ann_y[0], **ann)
    q_l = one_text(p_txt, ann_x, ann_y[1], **ann)
    t_l = one_text(title, w / 2, -16, font=FONT, fontSize=17.7, fontWeight="normal",
                   align="center", baseline="middle", color=INK)
    let = one_text(letter, let_xy[0], let_xy[1], font="Liberation Serif", fontSize=26,
                   fontWeight="bold", align="left", baseline="top", color="#000000")
    return alt.layer(g_l, p_l, l_l, r_l, q_l, t_l, let).properties(width=w, height=h)


XD = [-5.9, 124.4]
pA = panel("A", "MetFlex Index vs. Systolic Blood Pressure (mmHg)", "Systolic Blood Pressure (mmHg)",
           A_pts + A_core, A_gray, A_line_x, A_line_y, XD, [91, 180], [100, 120, 140, 160, 180], "d",
           438, 236, "r = \u22120.12", "p = <0.001", 414, (17, 37), (-60, -34), 9)
pB = panel("B", "MetFlex Index vs. Diastolic Blood Pressure (mmHg)", "Diastolic Blood Pressure (mmHg)",
           B_pts + B_core, B_gray, B_line_x, B_line_y, XD, [58.5, 111.5], [60, 70, 80, 90, 100, 110], "d",
           437, 238, "r = \u22120.12", "p = <0.001", 413, (17, 37), (-68, -34), 11)
pC = panel("C", "MetFlex Index vs. Mean Arterial Pressure (mmHg)", "Mean Arterial Pressure (mmHg)",
           C_pts + C_core, C_gray, C_line_x, C_line_y, XD, [71, 134], [80, 90, 100, 110, 120, 130], "d",
           440, 237, "r = \u22120.13", "p = <0.001", 415, (18, 38), (-60, -43), 8)
pD = panel("D", "MetFlex Index vs. Resting Heart Rate (bpm)", "Resting Heart Rate (bpm)",
           D_pts + D_core, D_gray, D_line_x, D_line_y, XD, [39.2, 101.8], [40, 50, 60, 70, 80, 90, 100], "d",
           436, 237, "r = \u22120.43", "p = <0.001", 411, (17, 36), (-69, -38), 12)
pE = panel("E", "MetFlex Index vs. Double Product (bpm*mmHg)", "Double Product (bpm*mmHg)",
           E_pts + E_core, E_gray, E_line_x, E_line_y, [-6.0, 124.7], [4200, 18050],
           [6000, 8000, 10000, 12000, 14000, 16000, 18000], "d",
           419, 225, "r = \u22120.40", "p = <0.001", 398, (17, 35), (-77, -38), 7)
pF = panel("F", "MetFlex Index vs. Chronotropic Index", "Chronotropic Index",
           F_pts + F_core, F_gray, F_line_x, F_line_y, [-5.75, 120.75], [0.25, 1.385],
           [0.4, 0.6, 0.8, 1.0, 1.2], ".1f",
           439, 240, "r = 0.44", "p = <0.001", 417, (197, 216), (-59, -31), 12)

# an invisible 1px holder that lets panel E start further right than A and C
spacer = one_text("", 0, 0, opacity=0).properties(
    width=1, height=1, view=alt.ViewBackground(stroke="transparent"))

row1 = alt.hconcat(pA, pB, spacing=21)
row2 = alt.hconcat(pC, pD, spacing=28)
row3 = alt.hconcat(alt.hconcat(spacer, pE, spacing=-65), pF, spacing=37)

chart = alt.vconcat(alt.vconcat(row1, row2, spacing=-1), row3, spacing=4, padding=0).configure_view(
    stroke=INK, strokeWidth=1.1
).configure_axis(
    grid=True, gridColor="#c2c2c2", gridWidth=1, domain=False,
    ticks=True, tickColor=INK, tickSize=5, tickWidth=1,
    labelFont=FONT, labelFontSize=14, labelColor=INK, labelPadding=4,
    labelFlush=False, labelOverlap=False,
    titleFont=FONT, titleFontSize=14.8, titleFontWeight="normal", titleColor=INK
).configure_axisX(titlePadding=6)

chart.save("out.html", embed_options={"renderer": "svg", "actions": False})
